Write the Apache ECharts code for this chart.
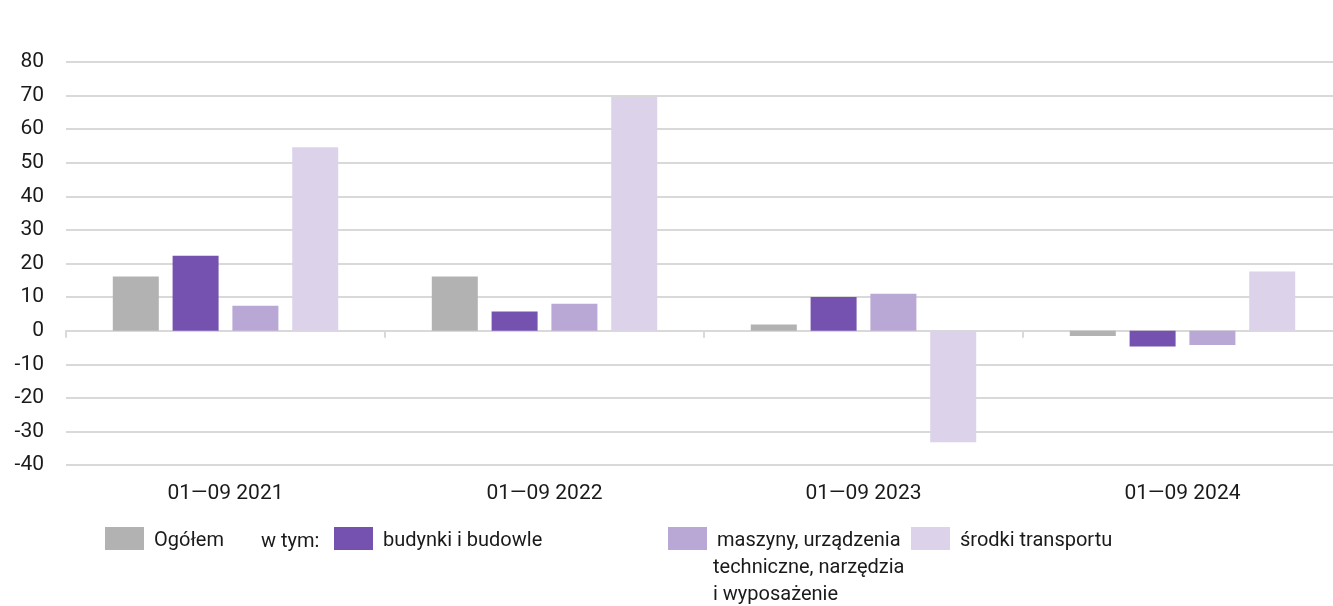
<!DOCTYPE html>
<html>
<head>
<meta charset="utf-8">
<script src="https://cdn.jsdelivr.net/npm/echarts@6/dist/echarts.min.js"></script>
<style>
    html, body { margin: 0; padding: 0; background: #fff; overflow: hidden; }
    /* wykres jest ucięty z prawej strony, tak jak w oryginale */
    #chart { width: 1342px; height: 606px; }
</style>
</head>
<body>
<div id="chart"></div>
<script>
    // dane z wykresu (dynamika nakładów, %)
    var categories = ['01—09 2021', '01—09 2022', '01—09 2023', '01—09 2024'];
    var ogolem = [16.1, 16.1, 1.8, -1.6];
    var budynki = [22.3, 5.7, 10.0, -4.7];
    var maszyny = [7.4, 8.0, 11.0, -4.3];
    var transport = [54.6, 69.6, -33.2, 17.6];
    var yTicks = {min: -40, max: 80, step: 10};

    var font = 'Roboto';
    var fs = 21;
    var legendFs = 20;
    var txt = '#1a1a1a';
    var gridColor = '#d9d9d9';

    function barSeries(name, data, color) {
        return {
            name: name,
            type: 'bar',
            data: data,
            barWidth: 46,
            barGap: '30%',
            itemStyle: {color: color},
            emphasis: {disabled: true}
        };
    }

    function legendBox(name, left, label) {
        return {
            data: [name],
            left: left,
            top: 527,
            padding: 0,
            orient: 'horizontal',
            itemWidth: 39,
            itemHeight: 23,
            itemGap: 0,
            icon: 'rect',
            selectedMode: false,
            formatter: function () { return '{t|' + (label || name) + '}'; },
            textStyle: {
                fontFamily: font, fontSize: legendFs, color: txt,
                rich: {t: {fontFamily: font, fontSize: legendFs, color: txt, padding: [4, 0, 0, 5]}}
            }
        };
    }

    var option = {
        animation: false,
        textStyle: {fontFamily: font},
        grid: {left: 66, right: 0, top: 62, bottom: 141, containLabel: false},
        xAxis: [
            {
                type: 'category',
                data: categories,
                axisLine: {onZero: true, lineStyle: {color: gridColor, width: 2}},
                axisTick: {show: true, length: 7, lineStyle: {color: gridColor, width: 2}},
                axisLabel: {show: false}
            },
            {
                type: 'category',
                data: categories,
                position: 'bottom',
                axisLine: {show: false, onZero: false},
                axisTick: {show: false},
                axisLabel: {fontFamily: font, fontSize: fs, color: txt, margin: 18}
            }
        ],
        yAxis: {
            type: 'value',
            min: yTicks.min,
            max: yTicks.max,
            interval: yTicks.step,
            axisLine: {show: false},
            axisTick: {show: false},
            splitLine: {lineStyle: {color: gridColor, width: 2}},
            axisLabel: {fontFamily: font, fontSize: fs, color: txt, margin: 22}
        },
        legend: [
            legendBox('Ogółem', 105),
            legendBox('budynki i budowle', 334),
            legendBox('maszyny, urządzenia techniczne, narzędzia i wyposażenie', 668, 'maszyny, urządzenia'),
            legendBox('środki transportu', 911)
        ],
        graphic: [
            {
                type: 'text',
                left: 261,
                top: 529,
                style: {text: 'w tym:', fontFamily: font, fontSize: legendFs, fill: txt, lineHeight: 25, verticalAlign: 'top'}
            },
            {
                // dalsze wiersze opisu legendy
                type: 'text',
                left: 713,
                top: 555,
                style: {text: 'techniczne, narzędzia\ni wyposażenie', fontFamily: font, fontSize: legendFs, fill: txt, lineHeight: 26.5}
            }
        ],
        series: [
            barSeries('Ogółem', ogolem, '#b2b2b2'),
            barSeries('budynki i budowle', budynki, '#7652b0'),
            barSeries('maszyny, urządzenia techniczne, narzędzia i wyposażenie', maszyny, '#b9a7d5'),
            barSeries('środki transportu', transport, '#dcd3ea')
        ]
    };

    var myChart = echarts.init(document.getElementById('chart'));
    myChart.setOption(option);
</script>
</body>
</html>
